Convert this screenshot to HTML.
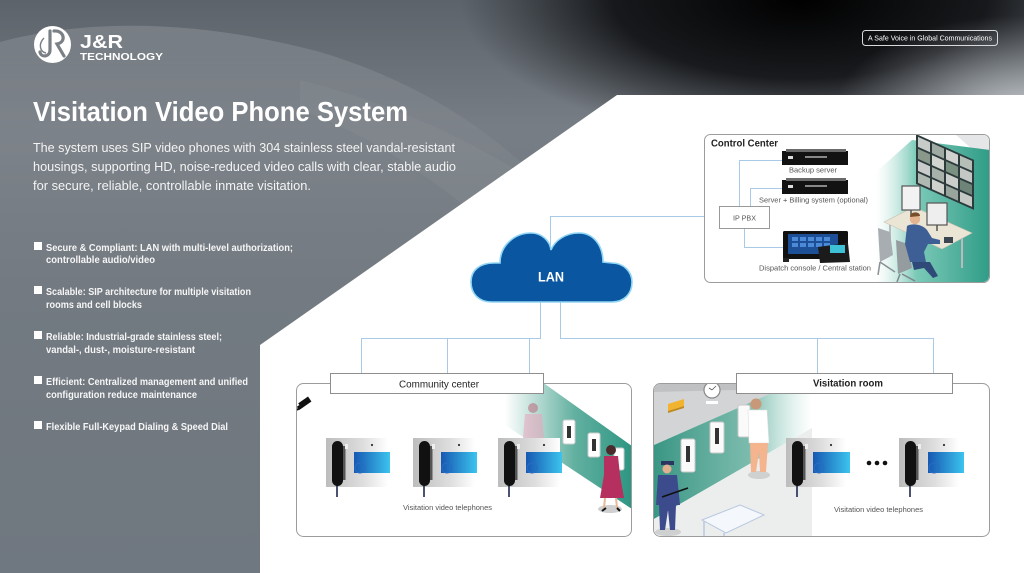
<!DOCTYPE html>
<html><head><meta charset="utf-8"><style>
html,body{margin:0;padding:0;background:#fff;}
body{width:1024px;height:573px;overflow:hidden;}
svg{display:block;font-family:"Liberation Sans",Arial,sans-serif;}
</style></head><body>
<svg width="1024" height="573" viewBox="0 0 1024 573" xmlns="http://www.w3.org/2000/svg">
<defs>
 <linearGradient id="bg" x1="0" y1="0" x2="0" y2="1">
  <stop offset="0" stop-color="#5c636a"/>
  <stop offset="0.22" stop-color="#777d84"/>
  <stop offset="0.5" stop-color="#737a81"/>
  <stop offset="1" stop-color="#6f7780"/>
 </linearGradient>
 <linearGradient id="wave" x1="0" y1="0" x2="0" y2="1">
  <stop offset="0" stop-color="#8a9096" stop-opacity="0.55"/>
  <stop offset="0.5" stop-color="#858b91" stop-opacity="0.3"/>
  <stop offset="1" stop-color="#7a8087" stop-opacity="0"/>
 </linearGradient>
 <radialGradient id="dark" cx="800" cy="0" r="340" gradientUnits="userSpaceOnUse" gradientTransform="translate(800 0) scale(1 0.42) translate(-800 0)">
  <stop offset="0" stop-color="#000" stop-opacity="1"/>
  <stop offset="0.55" stop-color="#0a0b0d" stop-opacity="0.85"/>
  <stop offset="1" stop-color="#1a1c20" stop-opacity="0"/>
 </radialGradient>
 <radialGradient id="lite" cx="1024" cy="110" r="190" gradientUnits="userSpaceOnUse" gradientTransform="translate(1024 110) scale(1 0.5) translate(-1024 -110)">
  <stop offset="0" stop-color="#c4c8cc" stop-opacity="0.95"/>
  <stop offset="1" stop-color="#9aa0a6" stop-opacity="0"/>
 </radialGradient>
 <linearGradient id="panel" x1="0" y1="0" x2="1" y2="0">
  <stop offset="0" stop-color="#bdbdbd"/>
  <stop offset="0.6" stop-color="#dedede"/>
  <stop offset="1" stop-color="#ffffff"/>
 </linearGradient>
 <linearGradient id="scr" x1="0" y1="0" x2="1" y2="0">
  <stop offset="0" stop-color="#1658b2"/>
  <stop offset="1" stop-color="#3cc4ee"/>
 </linearGradient>
 <linearGradient id="tealR" x1="0" y1="0" x2="1" y2="0">
  <stop offset="0" stop-color="#3a9c88" stop-opacity="0"/>
  <stop offset="0.55" stop-color="#3a9c88" stop-opacity="0.8"/>
  <stop offset="1" stop-color="#2e9582"/>
 </linearGradient>
 <linearGradient id="tealL" x1="0" y1="0" x2="1" y2="0">
  <stop offset="0" stop-color="#3a9684"/>
  <stop offset="0.6" stop-color="#5aaa98" stop-opacity="0.8"/>
  <stop offset="1" stop-color="#9fd6c8" stop-opacity="0"/>
 </linearGradient>
 <linearGradient id="ccTeal" x1="0" y1="0" x2="1" y2="0">
  <stop offset="0" stop-color="#bfe6dc" stop-opacity="0"/>
  <stop offset="0.35" stop-color="#7ccab8"/>
  <stop offset="1" stop-color="#2f9c87"/>
 </linearGradient>
 <clipPath id="ccClip"><rect x="705" y="135" width="284" height="147" rx="6"/></clipPath>
 <clipPath id="cmClip"><rect x="297" y="384" width="334" height="152" rx="7"/></clipPath>
 <clipPath id="vrClip"><rect x="654" y="384" width="335" height="152" rx="7"/></clipPath>
</defs>

<!-- background -->
<rect x="0" y="0" width="1024" height="573" fill="url(#bg)"/>
<path d="M0,42 C90,18 200,20 320,52 C420,82 490,130 545,185 L420,300 L0,300 Z" fill="url(#wave)"/>
<path d="M300,80 C380,100 450,130 520,172 L470,210 C420,170 360,130 300,110 Z" fill="#8d9398" opacity="0.25"/>
<rect x="380" y="0" width="644" height="140" fill="url(#dark)"/>
<rect x="700" y="0" width="324" height="140" fill="url(#lite)"/>

<!-- white area -->
<polygon points="260,573 260,345 617,95 1024,95 1024,573" fill="#ffffff"/>

<!-- logo -->
<circle cx="52.5" cy="44.5" r="18.5" fill="#ffffff"/>
<path d="M50,31 L50,50 C50,57 41,58 40,52" fill="none" stroke="#7a8086" stroke-width="3.2" stroke-linecap="round"/>
<path d="M54,31 C64,30 67,42 57,44 L64,56" fill="none" stroke="#7a8086" stroke-width="3.2" stroke-linecap="round"/>
<path d="M44,38 C38,44 40,52 46,53" fill="none" stroke="#7a8086" stroke-width="1.4"/>
<text x="80" y="48" font-size="18" font-weight="bold" fill="#fff" textLength="43" lengthAdjust="spacingAndGlyphs">J&amp;R</text>
<text x="80" y="60" font-size="10.5" font-weight="bold" fill="#fff" textLength="83" lengthAdjust="spacingAndGlyphs">TECHNOLOGY</text>

<!-- tagline -->
<rect x="862.5" y="30.5" width="135" height="15" rx="3" fill="none" stroke="#d8dadc" stroke-width="1"/>
<text x="868" y="40.5" font-size="7" fill="#fff" textLength="124" lengthAdjust="spacingAndGlyphs">A Safe Voice in Global Communications</text>

<!-- title & paragraph -->
<text x="33" y="121" font-size="28" font-weight="bold" fill="#fff" textLength="375" lengthAdjust="spacingAndGlyphs">Visitation Video Phone System</text>
<g font-size="13" fill="#f4f4f4">
 <text x="33" y="152" textLength="422" lengthAdjust="spacingAndGlyphs">The system uses SIP video phones with 304 stainless steel vandal-resistant</text>
 <text x="33" y="171" textLength="423" lengthAdjust="spacingAndGlyphs">housings, supporting HD, noise-reduced video calls with clear, stable audio</text>
 <text x="33" y="190" textLength="278" lengthAdjust="spacingAndGlyphs">for secure, reliable, controllable inmate visitation.</text>
</g>

<!-- bullets -->
<g fill="#fff">
 <rect x="34" y="242" width="8" height="8"/>
 <rect x="34" y="286" width="8" height="8"/>
 <rect x="34" y="331" width="8" height="8"/>
 <rect x="34" y="376" width="8" height="8"/>
 <rect x="34" y="421" width="8" height="8"/>
</g>
<g font-size="10" font-weight="bold" fill="#f6f6f6">
 <text x="46" y="251" textLength="247" lengthAdjust="spacingAndGlyphs">Secure &amp; Compliant: LAN with multi-level authorization;</text>
 <text x="46" y="263" textLength="109" lengthAdjust="spacingAndGlyphs">controllable audio/video</text>
 <text x="46" y="295" textLength="205" lengthAdjust="spacingAndGlyphs">Scalable: SIP architecture for multiple visitation</text>
 <text x="46" y="308" textLength="96" lengthAdjust="spacingAndGlyphs">rooms and cell blocks</text>
 <text x="46" y="340" textLength="176" lengthAdjust="spacingAndGlyphs">Reliable: Industrial-grade stainless steel;</text>
 <text x="46" y="353" textLength="149" lengthAdjust="spacingAndGlyphs">vandal-, dust-, moisture-resistant</text>
 <text x="46" y="385" textLength="202" lengthAdjust="spacingAndGlyphs">Efficient: Centralized management and unified</text>
 <text x="46" y="398" textLength="151" lengthAdjust="spacingAndGlyphs">configuration reduce maintenance</text>
 <text x="46" y="430" textLength="182" lengthAdjust="spacingAndGlyphs">Flexible Full-Keypad Dialing &amp; Speed Dial</text>
</g>

<!-- connectors -->
<g fill="none" stroke="#a9c9e8" stroke-width="1">
 <polyline points="550.5,250 550.5,216.5 720,216.5"/>
 <polyline points="540.5,302 540.5,338.5 361.5,338.5 361.5,374"/>
 <line x1="447.5" y1="338.5" x2="447.5" y2="374"/>
 <line x1="529.5" y1="338.5" x2="529.5" y2="374"/>
 <polyline points="560.5,302 560.5,338.5 933.5,338.5 933.5,374"/>
 <line x1="817.5" y1="338.5" x2="817.5" y2="374"/>
</g>

<!-- cloud -->
<path d="M492,302 C478,302 471,293 471,282 C471,270 480,263 494,263 L500,263 C500,245 515,233 531,233 C542,233 550,241 551,250 C555,240 566,233 579,233 C593,233 603,245 603,262 L612,263 C624,263 632,272 632,282 C632,294 624,302 612,302 Z" fill="#0b56a0" stroke="#8fd6f4" stroke-width="1.6"/>
<text x="538" y="281.5" font-size="13.5" font-weight="bold" fill="#fff" textLength="26" lengthAdjust="spacingAndGlyphs">LAN</text>

<!-- CONTROL CENTER -->
<rect x="704.5" y="134.5" width="285" height="148" rx="6" fill="#fff" stroke="#9c9c9c"/>
<g clip-path="url(#ccClip)">
 <polygon points="955,134 990,134 990,165" fill="#e4e6e8"/>
 <polygon points="876,172 912,140 990,150 990,282 876,282" fill="url(#ccTeal)"/>
 <g transform="translate(916 134) skewY(24)">
  <rect x="0" y="0" width="58" height="50" fill="#2c3a3c"/>
  <g>
   <rect x="2" y="2" width="12" height="10" fill="#c8ccc8"/><rect x="16" y="2" width="12" height="10" fill="#9eaaa2"/><rect x="30" y="2" width="12" height="10" fill="#cfd2ce"/><rect x="44" y="2" width="12" height="10" fill="#b6beb8"/>
   <rect x="2" y="14" width="12" height="10" fill="#8a988c"/><rect x="16" y="14" width="12" height="10" fill="#d2d4d0"/><rect x="30" y="14" width="12" height="10" fill="#7a9080"/><rect x="44" y="14" width="12" height="10" fill="#c4c8c4"/>
   <rect x="2" y="26" width="12" height="10" fill="#cacccb"/><rect x="16" y="26" width="12" height="10" fill="#a8b0aa"/><rect x="30" y="26" width="12" height="10" fill="#cccecb"/><rect x="44" y="26" width="12" height="10" fill="#6e8478"/>
   <rect x="2" y="38" width="12" height="10" fill="#b0b8b2"/><rect x="16" y="38" width="12" height="10" fill="#cfd1cd"/><rect x="30" y="38" width="12" height="10" fill="#98a49c"/><rect x="44" y="38" width="12" height="10" fill="#c6cac6"/>
  </g>
 </g>
 <polygon points="884,222 914,207 972,233 942,249" fill="#ebe5d6" stroke="#c9c2b2" stroke-width="0.6"/>
 <line x1="962" y1="238" x2="962" y2="268" stroke="#b8bcc0" stroke-width="2"/>
 <line x1="890" y1="225" x2="890" y2="250" stroke="#b8bcc0" stroke-width="2"/>
 <rect x="902" y="186" width="18" height="24" fill="#f2f2f2" stroke="#555" stroke-width="1.2"/>
 <rect x="927" y="203" width="20" height="22" fill="#eeeeee" stroke="#555" stroke-width="1.2"/>
 <line x1="911" y1="210" x2="911" y2="216" stroke="#555" stroke-width="1.5"/>
 <line x1="937" y1="225" x2="937" y2="231" stroke="#555" stroke-width="1.5"/>
 <rect x="944" y="237" width="9" height="6" fill="#3b4650"/>
 <path d="M878,228 L890,232 L893,255 L880,262 Z" fill="#a7adb1"/>
 <path d="M880,262 L878,275 M880,262 L895,272" stroke="#8a9094" stroke-width="1.5"/>
 <path d="M896,240 L908,244 L912,268 L898,274 Z" fill="#959ca0"/>
 <path d="M900,274 L897,282 M902,274 L915,281" stroke="#7f868a" stroke-width="1.5"/>
 <circle cx="915" cy="219" r="5.2" fill="#e3b48f"/>
 <path d="M910,217 C910,211 920,211 920,216 Z" fill="#7a4e2a"/>
 <path d="M907,226 C912,223 922,224 927,230 L932,238 L940,240 L940,244 L928,244 L924,252 L926,262 L910,262 L905,244 Z" fill="#3e5f95"/>
 <path d="M912,262 L930,262 L938,276 L933,278 L924,268 L914,270 Z" fill="#2f4a78"/>
</g>
<text x="711" y="146.5" font-size="10" font-weight="bold" fill="#222" textLength="67" lengthAdjust="spacingAndGlyphs">Control Center</text>
<rect x="719.5" y="206.5" width="50" height="22" fill="#fff" stroke="#999"/>
<text x="733" y="220.5" font-size="7.5" fill="#555" textLength="23" lengthAdjust="spacingAndGlyphs">IP PBX</text>
<g fill="none" stroke="#a9c9e8" stroke-width="1">
 <polyline points="739.5,206 739.5,160.5 782,160.5"/>
 <polyline points="750.5,206 750.5,188.5 782,188.5"/>
 <polyline points="744.5,229 744.5,247.5 783,247.5"/>
</g>
<rect x="782" y="151" width="66" height="14" fill="#121212"/>
<rect x="786" y="149" width="60" height="3" fill="#6a6a6a"/>
<rect x="788" y="156" width="5" height="3" fill="#ddd"/><rect x="805" y="156" width="22" height="2" fill="#888"/>
<rect x="782" y="180" width="66" height="14" fill="#121212"/>
<rect x="786" y="178" width="60" height="3" fill="#6a6a6a"/>
<rect x="788" y="185" width="5" height="3" fill="#ddd"/><rect x="805" y="185" width="22" height="2" fill="#888"/>
<text x="789" y="172.5" font-size="7.5" fill="#555" textLength="48" lengthAdjust="spacingAndGlyphs">Backup server</text>
<text x="759" y="202.5" font-size="7.5" fill="#555" textLength="109" lengthAdjust="spacingAndGlyphs">Server + Billing system (optional)</text>
<rect x="783" y="231" width="65" height="28" rx="1.5" fill="#111"/>
<rect x="788" y="234" width="50" height="20" fill="#1d4f96"/>
<g fill="#4a8ad6">
 <rect x="792" y="237" width="6" height="4"/><rect x="800" y="237" width="6" height="4"/><rect x="808" y="237" width="6" height="4"/><rect x="816" y="237" width="6" height="4"/><rect x="824" y="237" width="6" height="4"/>
 <rect x="792" y="243" width="6" height="4"/><rect x="800" y="243" width="6" height="4"/><rect x="808" y="243" width="6" height="4"/><rect x="816" y="243" width="6" height="4"/><rect x="824" y="243" width="6" height="4"/>
</g>
<path d="M818,247 L848,243 L850,262 L820,263 Z" fill="#1b1b1b"/>
<rect x="830" y="245" width="15" height="8" fill="#3ec0d6"/>
<rect x="783" y="258" width="6" height="4" fill="#222"/>
<text x="759" y="270.5" font-size="7.5" fill="#555" textLength="112" lengthAdjust="spacingAndGlyphs">Dispatch console / Central station</text>

<!-- COMMUNITY CENTER -->
<rect x="296.5" y="383.5" width="335" height="153" rx="7" fill="#fff" stroke="#9c9c9c"/>
<g clip-path="url(#cmClip)">
 <polygon points="505,384 545,384 632,446 632,509 505,425" fill="url(#tealR)"/>
 <polygon points="545,384 632,384 632,446" fill="#fff"/>
 <rect x="563" y="420" width="12" height="24" rx="2" fill="#fff" stroke="#ccc"/><rect x="567" y="426" width="4" height="12" fill="#333"/>
 <rect x="588" y="433" width="12" height="24" rx="2" fill="#fff" stroke="#ccc"/><rect x="592" y="439" width="4" height="12" fill="#333"/>
 <rect x="614" y="448" width="10" height="22" rx="2" fill="#fff" stroke="#ccc"/>
 <g opacity="0.55">
  <circle cx="533" cy="408" r="5" fill="#b86a7a"/>
  <path d="M525,414 L542,414 L544,438 L523,438 Z" fill="#eaa4bc"/>
 </g>
 <ellipse cx="610" cy="509" rx="12" ry="4" fill="#cfcfcf"/>
 <circle cx="611" cy="450" r="5" fill="#4a2a2a"/>
 <path d="M604,456 L618,456 L620,475 L624,498 L600,498 L604,475 Z" fill="#b5305e"/>
 <path d="M605,498 L604,508 M616,498 L617,508" stroke="#e6b89a" stroke-width="2"/>
 <path d="M606,508 L602,511 M617,508 L620,511" stroke="#111" stroke-width="2"/>
 <g transform="translate(304 403) rotate(-35)">
  <rect x="-5" y="-3" width="12" height="6" fill="#111"/>
  <rect x="-8" y="-1" width="3" height="4" fill="#111"/>
 </g>
 <line x1="297" y1="410" x2="301" y2="407" stroke="#111" stroke-width="2"/>
</g>
<rect x="330.5" y="373.5" width="213" height="20" fill="#fff" stroke="#8e8e8e"/>
<text x="399" y="387.5" font-size="10" fill="#222" textLength="80" lengthAdjust="spacingAndGlyphs">Community center</text>

<g>
 <g transform="translate(326 0)">
  <rect x="0" y="438" width="62" height="49" fill="url(#panel)"/>
  <line x1="11" y1="484" x2="11" y2="497" stroke="#1e2850" stroke-width="1.6"/>
  <rect x="6" y="441" width="11" height="45" rx="5.5" fill="#111"/>
  <rect x="17" y="446" width="2.5" height="34" fill="#555"/>
  <rect x="19" y="444" width="3" height="5" fill="#eee"/>
  <rect x="28" y="452" width="36" height="21" fill="url(#scr)"/>
  <circle cx="34" cy="468" r="5" fill="none" stroke="#2a6cc4" stroke-width="1"/>
  <circle cx="46" cy="445" r="1.1" fill="#333"/>
 </g>
 <g transform="translate(413 0)">
  <rect x="0" y="438" width="62" height="49" fill="url(#panel)"/>
  <line x1="11" y1="484" x2="11" y2="497" stroke="#1e2850" stroke-width="1.6"/>
  <rect x="6" y="441" width="11" height="45" rx="5.5" fill="#111"/>
  <rect x="17" y="446" width="2.5" height="34" fill="#555"/>
  <rect x="19" y="444" width="3" height="5" fill="#eee"/>
  <rect x="28" y="452" width="36" height="21" fill="url(#scr)"/>
  <circle cx="34" cy="468" r="5" fill="none" stroke="#2a6cc4" stroke-width="1"/>
  <circle cx="46" cy="445" r="1.1" fill="#333"/>
 </g>
 <g transform="translate(498 0)">
  <rect x="0" y="438" width="62" height="49" fill="url(#panel)"/>
  <line x1="11" y1="484" x2="11" y2="497" stroke="#1e2850" stroke-width="1.6"/>
  <rect x="6" y="441" width="11" height="45" rx="5.5" fill="#111"/>
  <rect x="17" y="446" width="2.5" height="34" fill="#555"/>
  <rect x="19" y="444" width="3" height="5" fill="#eee"/>
  <rect x="28" y="452" width="36" height="21" fill="url(#scr)"/>
  <circle cx="34" cy="468" r="5" fill="none" stroke="#2a6cc4" stroke-width="1"/>
  <circle cx="46" cy="445" r="1.1" fill="#333"/>
 </g>
</g>
<text x="403" y="510" font-size="7.5" fill="#555" textLength="89" lengthAdjust="spacingAndGlyphs">Visitation video telephones</text>

<!-- VISITATION ROOM -->
<rect x="653.5" y="383.5" width="336" height="153" rx="7" fill="#fff" stroke="#9c9c9c"/>
<g clip-path="url(#vrClip)">
 <polygon points="654,384 792,384 654,445" fill="#d3d4d5"/>
 <polygon points="654,384 792,384 780,389 654,392" fill="#bfc1c3"/>
 <polygon points="654,445 792,384 812,384 812,428 654,519" fill="url(#tealL)"/>
 <polygon points="654,519 812,428 812,537 654,537" fill="#eceded"/>
 <circle cx="712" cy="390" r="8" fill="#fff" stroke="#888" stroke-width="1.2"/>
 <line x1="712" y1="390" x2="716" y2="386" stroke="#555" stroke-width="0.8"/>
 <line x1="712" y1="390" x2="709" y2="388" stroke="#555" stroke-width="0.8"/>
 <rect x="706" y="401" width="12" height="3" fill="#fff"/>
 <polygon points="668,404 684,399 684,406 668,411" fill="#f2b42e"/>
 <polygon points="668,411 684,406 684,408 668,413" fill="#c08a20"/>
 <rect x="681" y="439" width="14" height="33" rx="2" fill="#fafafa" stroke="#c8c8c8"/><rect x="686" y="446" width="4" height="16" fill="#333"/>
 <rect x="710" y="422" width="14" height="31" rx="2" fill="#fafafa" stroke="#c8c8c8"/><rect x="715" y="428" width="4" height="16" fill="#333"/>
 <rect x="738" y="405" width="12" height="32" rx="2" fill="#fafafa" stroke="#c8c8c8"/>
 <ellipse cx="759" cy="475" rx="11" ry="4" fill="#cfd0d0"/>
 <circle cx="756" cy="404" r="5.5" fill="#c89878"/>
 <path d="M748,410 L767,410 L769,443 L749,443 Z" fill="#ffffff" stroke="#ddd" stroke-width="0.6"/>
 <path d="M750,443 L768,443 L766,472 L760,472 L759,452 L756,472 L751,472 Z" fill="#f3b48e"/>
 <ellipse cx="668" cy="532" rx="13" ry="4" fill="#cfd0d0"/>
 <rect x="661" y="461" width="13" height="4" fill="#2a3560"/>
 <circle cx="667" cy="469" r="4.5" fill="#e0b090"/>
 <path d="M658,475 L677,475 L680,505 L676,505 L675,530 L670,530 L668,510 L665,530 L660,530 L659,505 L656,505 Z" fill="#3c4b8c"/>
 <line x1="662" y1="497" x2="688" y2="488" stroke="#111" stroke-width="1.6"/>
 <path d="M702,520 L740,505 L764,515 L726,533 Z" fill="#f4f8fc" stroke="#b8c8e0" stroke-width="1"/>
 <path d="M704,521 L704,537 M724,533 L724,537" stroke="#b8c8e0" stroke-width="1.5"/>
</g>
<rect x="736.5" y="373.5" width="216" height="20" fill="#fff" stroke="#8e8e8e"/>
<text x="813" y="386.5" font-size="10" font-weight="bold" fill="#222" textLength="70" lengthAdjust="spacingAndGlyphs">Visitation room</text>
<g>
 <g transform="translate(786 0)">
  <rect x="0" y="438" width="60" height="49" fill="url(#panel)"/>
  <line x1="11" y1="484" x2="11" y2="497" stroke="#1e2850" stroke-width="1.6"/>
  <rect x="6" y="441" width="11" height="45" rx="5.5" fill="#111"/>
  <rect x="17" y="446" width="2.5" height="34" fill="#555"/>
  <rect x="19" y="444" width="3" height="5" fill="#eee"/>
  <rect x="27" y="452" width="37" height="21" fill="url(#scr)"/>
  <circle cx="33" cy="468" r="5" fill="none" stroke="#2a6cc4" stroke-width="1"/>
  <circle cx="45" cy="445" r="1.1" fill="#333"/>
 </g>
 <g transform="translate(899 0)">
  <rect x="0" y="438" width="60" height="49" fill="url(#panel)"/>
  <line x1="11" y1="484" x2="11" y2="497" stroke="#1e2850" stroke-width="1.6"/>
  <rect x="6" y="441" width="11" height="45" rx="5.5" fill="#111"/>
  <rect x="17" y="446" width="2.5" height="34" fill="#555"/>
  <rect x="19" y="444" width="3" height="5" fill="#eee"/>
  <rect x="29" y="452" width="36" height="21" fill="url(#scr)"/>
  <circle cx="35" cy="468" r="5" fill="none" stroke="#2a6cc4" stroke-width="1"/>
  <circle cx="45" cy="445" r="1.1" fill="#333"/>
 </g>
</g>
<circle cx="869" cy="463" r="2.3" fill="#111"/>
<circle cx="877" cy="463" r="2.3" fill="#111"/>
<circle cx="885" cy="463" r="2.3" fill="#111"/>
<text x="834" y="512" font-size="7.5" fill="#555" textLength="89" lengthAdjust="spacingAndGlyphs">Visitation video telephones</text>
</svg>
</body></html>
